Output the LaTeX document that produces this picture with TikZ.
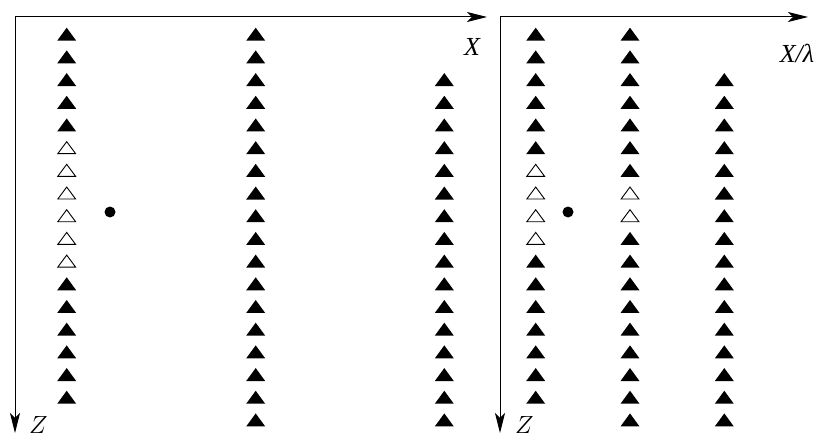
\documentclass[tikz,border=0pt]{standalone}
\usepackage{fontspec}
\newfontfamily\lblfont{Liberation Serif}
\usetikzlibrary{arrows.meta}
\begin{document}
\begin{tikzpicture}[x=1pt,y=-1pt,
  axis/.style={line width=1pt,-{Stealth[length=20pt,width=10pt,inset=5pt]}},
  lbl/.style={inner sep=0pt,font=\fontsize{26}{26}\selectfont\lblfont\itshape},
  zlbl/.style={inner sep=0pt,anchor=north west,font=\fontsize{26}{26}\selectfont},
  ftri/.pic={\fill[black] (-9.5,6.5)--(9.5,6.5)--(0,-6.5)--cycle;},
  otri/.pic={\draw[line width=0.9pt,fill=white,line join=miter] (-8.9,6)--(8.9,6)--(0,-6)--cycle;},
  dotmark/.style={circle,fill=black,inner sep=0pt,minimum size=11pt}]
\useasboundingbox (0,0) rectangle (817,433);
% axes left
\coordinate (O1) at (15,17);
\coordinate (X1) at (487,17);
\coordinate (Z1) at (15,433);
\draw[axis] (O1) -- (X1);
\draw[axis] (O1) -- (Z1);
\node[lbl] (lx1) at (472,47) {X};
\node[zlbl] (lz1) at (29,416) {$Z$};
% axes right
\coordinate (O2) at (500,17);
\coordinate (X2) at (808,17);
\coordinate (Z2) at (500,433);
\draw[axis] (O2) -- (X2);
\draw[axis] (O2) -- (Z2);
\node[lbl] (lx2) at (797,53) {X/λ};
\node[zlbl] (lz2) at (515,416) {$Z$};
% left panel triangles
\foreach \k in {0,...,16}{
  \pgfmathsetmacro{\yy}{34.2+22.69*\k}
  \ifnum\k<5 \pic at (66.7,\yy) {ftri};
  \else\ifnum\k<11 \pic at (66.7,\yy) {otri};
  \else \pic at (66.7,\yy) {ftri};\fi\fi
}
\foreach \k in {0,...,17}{
  \pgfmathsetmacro{\yy}{34.2+22.69*\k}
  \pic at (255.7,\yy) {ftri};
}
\foreach \k in {2,...,17}{
  \pgfmathsetmacro{\yy}{34.2+22.69*\k}
  \pic at (444.3,\yy) {ftri};
}
\node[dotmark] (d1) at (110,212) {};
% right panel triangles
\foreach \k in {0,...,16}{
  \pgfmathsetmacro{\yy}{34.2+22.69*\k}
  \ifnum\k<6 \pic at (535.7,\yy) {ftri};
  \else\ifnum\k<10 \pic at (535.7,\yy) {otri};
  \else \pic at (535.7,\yy) {ftri};\fi\fi
}
\foreach \k in {0,...,17}{
  \pgfmathsetmacro{\yy}{34.2+22.69*\k}
  \ifnum\k=7 \pic at (630,\yy) {otri};
  \else\ifnum\k=8 \pic at (630,\yy) {otri};
  \else \pic at (630,\yy) {ftri};\fi\fi
}
\foreach \k in {2,...,17}{
  \pgfmathsetmacro{\yy}{34.2+22.69*\k}
  \pic at (724.3,\yy) {ftri};
}
\node[dotmark] (d2) at (568,212) {};
\end{tikzpicture}
\end{document}
